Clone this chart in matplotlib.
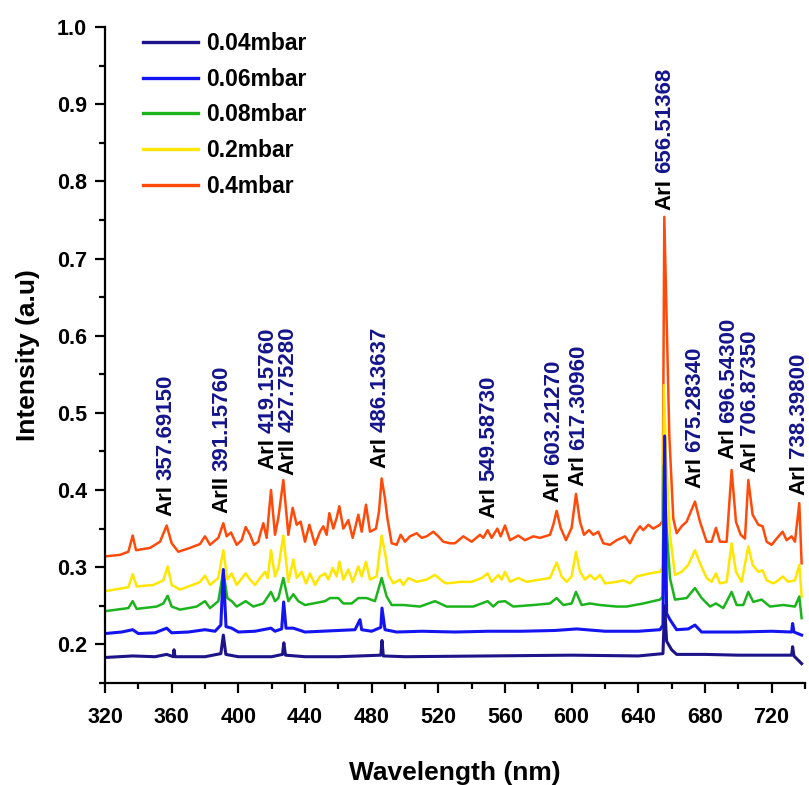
import matplotlib
matplotlib.use('Agg')
import matplotlib.pyplot as plt
from matplotlib.ticker import MultipleLocator

plt.rcParams['font.family'] = ['Liberation Sans', 'DejaVu Sans']
plt.rcParams['font.weight'] = 'bold'
plt.rcParams['axes.labelweight'] = 'bold'

# legend labels / colours
labels = ['0.04mbar', '0.06mbar', '0.08mbar', '0.2mbar', '0.4mbar']
colors = ['#1c1488', '#1414f0', '#1cb41c', '#ffe600', '#ff4a0a']
widths = [2.2, 2.2, 1.8, 1.8, 1.8]

# spectra, points (wavelength nm, intensity a.u)
wl_004 = [320, 336.6, 350, 357, 361, 361.4, 362, 380, 389.5, 391, 392.5, 400, 420, 426.5, 427.3, 428.3,
          440, 460, 485.5, 486.2, 487, 500, 550, 600, 640, 654.8, 655.8, 657, 660, 663, 680, 700,
          732, 732.6, 733.4, 738]
int_004 = [0.183, 0.185, 0.184, 0.187, 0.184, 0.193, 0.184, 0.184, 0.188, 0.212, 0.187, 0.184, 0.184, 0.187,
           0.202, 0.186, 0.184, 0.184, 0.186, 0.205, 0.185, 0.184, 0.185, 0.186, 0.185, 0.188, 0.250, 0.204,
           0.193, 0.187, 0.187, 0.186, 0.186, 0.197, 0.185, 0.175]

wl_006 = [320, 330, 336.6, 340, 350, 357, 360, 370, 380, 386, 389.5, 391, 392.6, 396, 400, 410, 419.6, 422,
          426, 427.2, 428.6, 433, 440, 450, 460, 470, 473, 474, 480, 485.5, 486.2, 488, 495, 510, 530,
          550, 570, 590, 603, 620, 640, 653, 654.8, 655.8, 657, 659, 663, 670, 674, 678, 700, 720, 732,
          732.6, 733.4, 738]
int_006 = [0.214, 0.216, 0.219, 0.214, 0.215, 0.221, 0.215, 0.216, 0.219, 0.217, 0.225, 0.297, 0.223, 0.221,
           0.216, 0.217, 0.221, 0.217, 0.220, 0.255, 0.221, 0.221, 0.216, 0.217, 0.218, 0.219, 0.232, 0.219,
           0.217, 0.222, 0.247, 0.219, 0.216, 0.217, 0.216, 0.217, 0.217, 0.218, 0.220, 0.217, 0.217, 0.219,
           0.225, 0.470, 0.240, 0.232, 0.219, 0.220, 0.225, 0.216, 0.216, 0.217, 0.216, 0.227, 0.216, 0.212]

wl_008 = [320, 334, 336.6, 339, 351, 355, 357.6, 360, 365, 375, 380, 383, 388, 391, 393.4, 396, 399, 404.4,
          409, 415, 419.6, 422, 424, 427, 430, 433, 436, 440, 445, 452, 455, 460, 463, 468, 472, 477, 482,
          486, 489, 492, 499, 509, 518, 525, 541, 549.6, 553, 556, 560, 565, 577, 587, 591, 595, 600,
          602.6, 606, 611, 617, 627, 633, 643, 653, 654.6, 655.4, 657, 659, 662, 669, 674, 678, 683,
          686.6, 691, 696, 699, 703, 706, 709, 714, 719, 727, 734, 736.6, 738]
int_008 = [0.243, 0.247, 0.256, 0.246, 0.249, 0.253, 0.263, 0.249, 0.245, 0.249, 0.256, 0.247, 0.256, 0.295,
           0.260, 0.256, 0.249, 0.256, 0.249, 0.253, 0.268, 0.256, 0.260, 0.286, 0.256, 0.265, 0.256, 0.251,
           0.253, 0.256, 0.260, 0.260, 0.253, 0.253, 0.260, 0.260, 0.256, 0.286, 0.262, 0.251, 0.251, 0.249,
           0.256, 0.249, 0.249, 0.256, 0.249, 0.255, 0.256, 0.249, 0.251, 0.253, 0.260, 0.251, 0.253, 0.268,
           0.251, 0.253, 0.251, 0.249, 0.249, 0.253, 0.258, 0.262, 0.432, 0.350, 0.286, 0.258, 0.260, 0.273,
           0.260, 0.249, 0.253, 0.247, 0.268, 0.251, 0.251, 0.268, 0.255, 0.258, 0.249, 0.251, 0.249, 0.262,
           0.234]

wl_02 = [320, 334, 336.6, 339, 349, 355, 357.6, 360, 365, 375, 377, 380, 383, 388, 391, 393.4, 396, 399,
         404.4, 407, 410, 413, 416, 417.6, 419.6, 422, 424, 427, 430, 433, 435, 438, 440.6, 443, 446, 449,
         452, 454, 456.6, 459, 460.6, 463, 466, 468.6, 472, 474, 476.6, 479, 483, 486, 488.4, 490, 493,
         497, 499, 502, 507, 513, 518, 523, 525, 533, 540, 546, 549.6, 552, 556, 558, 560, 563, 568, 573,
         581, 587, 591, 594, 597, 600, 602.6, 605, 608, 611, 614, 617, 620, 627, 631, 635, 639, 643, 647,
         653, 654.6, 655.4, 656.6, 659, 662, 666, 670, 674, 677, 681, 684, 686.6, 689, 693, 696, 698.6,
         702, 706, 708.6, 712, 714.6, 717, 721, 724, 726.6, 730, 734, 736.6, 738]
int_02 = [0.269, 0.274, 0.291, 0.275, 0.277, 0.283, 0.301, 0.277, 0.271, 0.279, 0.281, 0.289, 0.277, 0.286,
          0.322, 0.284, 0.292, 0.277, 0.292, 0.284, 0.277, 0.286, 0.294, 0.286, 0.322, 0.288, 0.299, 0.341,
          0.281, 0.310, 0.286, 0.294, 0.279, 0.292, 0.277, 0.288, 0.292, 0.284, 0.299, 0.288, 0.307, 0.284,
          0.297, 0.281, 0.301, 0.288, 0.307, 0.284, 0.288, 0.341, 0.314, 0.290, 0.279, 0.284, 0.277, 0.286,
          0.281, 0.284, 0.290, 0.281, 0.279, 0.281, 0.281, 0.286, 0.292, 0.281, 0.290, 0.284, 0.294, 0.281,
          0.286, 0.281, 0.284, 0.286, 0.306, 0.288, 0.281, 0.288, 0.320, 0.294, 0.284, 0.290, 0.284, 0.290,
          0.279, 0.281, 0.283, 0.279, 0.288, 0.290, 0.292, 0.294, 0.300, 0.536, 0.445, 0.342, 0.290, 0.294,
          0.303, 0.322, 0.305, 0.286, 0.281, 0.292, 0.279, 0.281, 0.331, 0.294, 0.281, 0.327, 0.303, 0.294,
          0.296, 0.283, 0.279, 0.283, 0.288, 0.281, 0.283, 0.303, 0.262]

wl_04 = [320, 329, 334, 336.6, 338.6, 347, 353, 357, 360, 364, 371, 377, 380, 383, 388, 391, 393, 395.6,
         399, 402, 404.4, 407, 409.4, 412, 413, 415, 417, 419.6, 422, 424, 427, 430, 432.6, 435, 437.4,
         440, 442.6, 446, 449, 451, 453, 454.6, 457, 459, 460.6, 463, 466, 468.6, 472, 474, 476.6, 479,
         482.6, 484.4, 486, 488, 489.4, 492, 495, 497.4, 500, 503, 507, 510, 513, 517, 520, 523, 527,
         530, 535, 540, 545, 547, 549.6, 552, 555.4, 557.4, 560, 563, 568, 572, 577, 581, 587, 589, 591,
         593.4, 596.6, 600, 602.6, 605, 607.4, 610.4, 613, 616, 619, 623, 627, 632, 635, 638, 641, 643,
         646, 649, 653, 654.6, 655.6, 658.6, 661, 663, 666, 669, 674, 677, 681, 684, 686.6, 689, 693,
         696, 698.6, 701.4, 704, 706, 708.6, 712, 714.6, 717, 720, 723, 726.6, 729, 732, 734, 736.6, 738]
int_04 = [0.314, 0.316, 0.320, 0.341, 0.322, 0.325, 0.333, 0.354, 0.331, 0.320, 0.325, 0.330, 0.340, 0.329,
          0.338, 0.357, 0.340, 0.345, 0.329, 0.335, 0.352, 0.342, 0.329, 0.333, 0.342, 0.357, 0.338, 0.400,
          0.342, 0.364, 0.413, 0.342, 0.377, 0.355, 0.359, 0.333, 0.355, 0.329, 0.346, 0.353, 0.342, 0.370,
          0.350, 0.364, 0.379, 0.350, 0.361, 0.338, 0.368, 0.346, 0.381, 0.346, 0.350, 0.372, 0.415, 0.389,
          0.364, 0.331, 0.329, 0.342, 0.333, 0.340, 0.344, 0.338, 0.340, 0.346, 0.340, 0.333, 0.331, 0.331,
          0.340, 0.333, 0.342, 0.338, 0.348, 0.338, 0.350, 0.340, 0.354, 0.335, 0.341, 0.335, 0.340, 0.338,
          0.342, 0.355, 0.373, 0.351, 0.335, 0.351, 0.395, 0.359, 0.342, 0.348, 0.342, 0.346, 0.331, 0.329,
          0.335, 0.340, 0.331, 0.344, 0.353, 0.348, 0.355, 0.350, 0.355, 0.360, 0.754, 0.471, 0.363, 0.344,
          0.353, 0.359, 0.385, 0.359, 0.333, 0.333, 0.351, 0.333, 0.333, 0.426, 0.359, 0.342, 0.337, 0.413,
          0.368, 0.355, 0.353, 0.333, 0.329, 0.337, 0.346, 0.335, 0.340, 0.333, 0.383, 0.305]

# line labels
ann_prefix = ['ArI', 'ArII', 'ArI', 'ArII', 'ArI', 'ArI', 'ArI', 'ArI', 'ArI', 'ArI', 'ArI', 'ArI', 'ArI']
ann_number = ['357.69150', '391.15760', '419.15760', '427.75280', '486.13637', '549.58730', '603.21270',
              '617.30960', '656.51368', '675.28340', '696.54300', '706.87350', '738.39800']
ann_x = [356.6, 390, 417.6, 430, 485, 550.6, 589, 604, 656, 674, 694, 707, 736.3]
ann_y = [0.366, 0.370, 0.427, 0.420, 0.428, 0.364, 0.385, 0.405, 0.763, 0.402, 0.440, 0.424, 0.394]

fig = plt.figure(figsize=(8.09, 7.85), dpi=100)
ax = fig.add_axes([0.1298, 0.130, 0.8652, 0.8356])

series = [(wl_004, int_004), (wl_006, int_006), (wl_008, int_008), (wl_02, int_02), (wl_04, int_04)]
handles = []
# draw 0.4mbar first so the low-pressure traces sit on top
for i in range(len(series) - 1, -1, -1):
    wl, inten = series[i]
    ln, = ax.plot(wl, inten, color=colors[i], lw=widths[i], label=labels[i], solid_joinstyle='round')
    handles.insert(0, ln)

for pre, num, x, y in zip(ann_prefix, ann_number, ann_x, ann_y):
    t = ax.text(x, y, pre, rotation=90, ha='center', va='bottom', fontsize=16,
                fontweight='bold', color='black')
    ax.annotate(num, xy=(0.5, 1.0), xycoords=t, xytext=(0, 4), textcoords='offset points',
                rotation=90, ha='center', va='bottom', fontsize=16, fontweight='bold',
                color='#14148c', annotation_clip=False)

ax.set_xlim(320, 740)
ax.set_ylim(0.15, 1.0)
ax.xaxis.set_major_locator(MultipleLocator(40))
ax.xaxis.set_minor_locator(MultipleLocator(20))
ax.yaxis.set_major_locator(MultipleLocator(0.1))
ax.yaxis.set_minor_locator(MultipleLocator(0.05))
ax.set_xticks(range(320, 721, 40))

for s in ['top', 'right']:
    ax.spines[s].set_visible(False)
for s in ['left', 'bottom']:
    ax.spines[s].set_linewidth(1.6)
ax.tick_params(which='major', direction='out', length=7, width=1.6, labelsize=15.5)
ax.tick_params(axis='x', which='major', pad=10)
ax.tick_params(axis='y', which='major', pad=6)
ax.tick_params(which='minor', direction='out', length=4, width=1.6)

ax.set_xlabel('Wavelength (nm)', fontsize=19, labelpad=24)
ax.set_ylabel('Intensity (a.u)', fontsize=19, labelpad=12)

leg = ax.legend(handles=handles, loc='upper left', bbox_to_anchor=(0.035, 1.013), frameon=False,
                fontsize=16.5, handlelength=2.4, handletextpad=0.35, labelspacing=0.55,
                borderaxespad=0.2)
for h in leg.get_lines():
    h.set_linewidth(2.4)

fig.savefig('out.png', dpi=100)
